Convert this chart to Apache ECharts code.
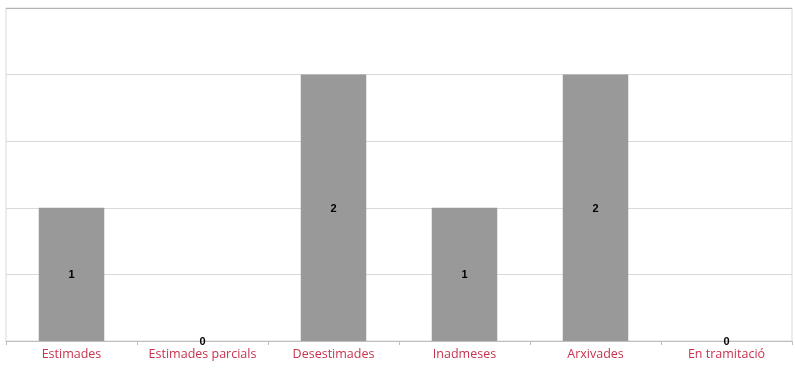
<!DOCTYPE html>
<html><head><meta charset="utf-8">
<script src="https://cdn.jsdelivr.net/npm/echarts@6/dist/echarts.min.js"></script>
<style>html,body{margin:0;padding:0;background:#fff}#c{width:795px;height:370px}</style>
</head><body><div id="c"></div>
<script>
const categories = ['Estimades','Estimades parcials','Desestimades','Inadmeses','Arxivades','En tramitació'];
const values = [1,0,2,1,2,0];
const chart = echarts.init(document.getElementById('c'));
chart.setOption({
  animation:false,
  grid:{left:6,right:3,top:8,bottom:29,show:true,borderColor:'#d9d9d9',borderWidth:1},
  xAxis:{type:'category',data:categories,
    axisLine:{lineStyle:{color:'#bfbfbf'}},
    axisTick:{show:true,length:4,lineStyle:{color:'#bfbfbf'}},
    axisLabel:{color:'#c8324f',fontFamily:'Open Sans',fontSize:12.5,margin:7,interval:0}},
  yAxis:{type:'value',min:0,max:2.5,interval:0.5,
    axisLabel:{show:false},axisLine:{show:false},axisTick:{show:false},
    splitLine:{lineStyle:{color:['#d9d9d9','#d9d9d9','#d9d9d9','#d9d9d9','#d9d9d9','#b3b3b3']}}},
  series:[{type:'bar',data:values,barWidth:'50%',
    itemStyle:{color:'#999999'},
    label:{show:true,position:'inside',offset:[0,1],color:'#000',fontWeight:'bold',fontSize:11,fontFamily:'Liberation Sans'}}]
});
</script></body></html>
